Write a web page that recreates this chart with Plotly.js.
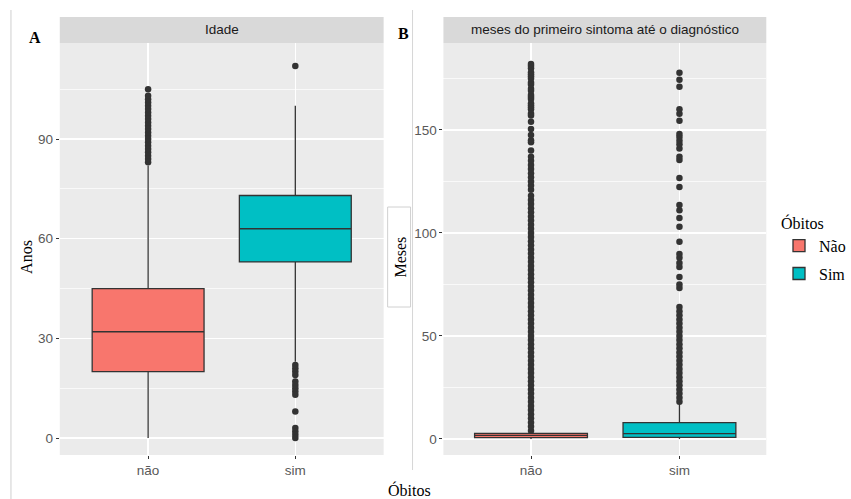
<!DOCTYPE html>
<html>
<head>
<meta charset="utf-8">
<script src="https://cdn.plot.ly/plotly-3.0.1.min.js"></script>
<style>html,body{margin:0;padding:0;background:#fff;}#chart{width:851px;height:499px;}</style>
</head>
<body>
<div id="chart"></div>
<script>
// ---------- DATA ----------
const categories = ['não', 'sim'];
const legendNames = ['Não', 'Sim'];

// Panel A: Idade (anos)
const idadeQ1 = [20, 53];
const idadeMedian = [32, 63];
const idadeQ3 = [45, 73];
const idadeLower = [0, 23];
const idadeUpper = [82, 100];
const idadeOutNao = [83, 84, 85, 86, 87, 88, 89, 90, 91, 92, 93, 94, 95, 96, 97, 98, 99, 100, 101, 102, 103, 105];
const idadeOutSim = [112, 22, 21, 20, 19, 17, 16, 15, 14, 13, 8, 3, 2, 1, 0];

// Panel B: meses do primeiro sintoma até o diagnóstico
const mesesQ1 = [0.6, 0.8];
const mesesMedian = [1.7, 2.6];
const mesesQ3 = [2.7, 7.9];
const mesesLower = [0, 0];
const mesesUpper = [4, 17.5];
const mesesOutNao = [4, 6, 8, 10, 12, 14, 16, 18, 20, 22, 24, 26, 28, 30, 32, 34, 36, 38, 40, 42, 44, 46, 48, 50,
  52, 54, 56, 58, 60, 62, 64, 66, 68, 70, 72, 74, 76, 78, 80, 82, 84, 86, 88, 90, 92, 94, 96, 98, 100,
  102, 104, 106, 108, 110, 112, 114, 116, 118, 121, 123, 125, 127, 129, 131, 133, 135, 137, 140,
  144, 145, 147.5, 150.5, 154, 157, 158, 160, 161, 162, 163, 165, 166, 167, 169, 170, 172, 173, 175,
  176, 177, 178, 180, 181, 182];
const mesesOutSim = [18, 20, 22, 24, 26, 28, 30, 32, 34, 36, 38, 40, 42, 44, 46, 48, 50, 52, 54, 56, 58, 60,
  62, 64, 73.3, 75, 78.6, 83.5, 85.4, 87.9, 89.8, 95.7, 103, 107.3, 111, 113.6, 122.3, 126.7, 135.4, 137,
  141, 143, 144.7, 146.6, 148, 154.4, 157.8, 160, 171, 174.3, 177.8];

// ---------- STYLE ----------
const fills = ['#F8766D', '#00BFC4'];
const W = 851, H = 499;
const px = x => x / W;
const py = y => 1 - y / H;

function boxTrace(i, q1, med, q3, lo, hi, xa, ya, showleg) {
  return {
    type: 'box', name: legendNames[i], legendgroup: legendNames[i], showlegend: showleg,
    x: [categories[i]], q1: [q1[i]], median: [med[i]], q3: [q3[i]],
    lowerfence: [lo[i]], upperfence: [hi[i]],
    boxpoints: false, width: 0.76, whiskerwidth: 0,
    fillcolor: fills[i], line: {color: '#333333', width: 1.3},
    xaxis: xa, yaxis: ya, hoverinfo: 'skip'
  };
}
function outTrace(i, vals, xa, ya) {
  return {
    type: 'scatter', mode: 'markers', showlegend: false, legendgroup: legendNames[i],
    x: vals.map(() => categories[i]), y: vals,
    marker: {color: '#333333', size: 6.5, line: {width: 0}},
    xaxis: xa, yaxis: ya, hoverinfo: 'skip'
  };
}

const data = [
  boxTrace(0, idadeQ1, idadeMedian, idadeQ3, idadeLower, idadeUpper, 'x', 'y', true),
  boxTrace(1, idadeQ1, idadeMedian, idadeQ3, idadeLower, idadeUpper, 'x', 'y', true),
  outTrace(0, idadeOutNao, 'x', 'y'),
  outTrace(1, idadeOutSim, 'x', 'y'),
  boxTrace(0, mesesQ1, mesesMedian, mesesQ3, mesesLower, mesesUpper, 'x2', 'y2', false),
  boxTrace(1, mesesQ1, mesesMedian, mesesQ3, mesesLower, mesesUpper, 'x2', 'y2', false),
  outTrace(0, mesesOutNao, 'x2', 'y2'),
  outTrace(1, mesesOutSim, 'x2', 'y2')
];

const tickFont = {family: 'Liberation Sans, Arial, sans-serif', size: 13.5, color: '#595959'};
function xAxis(dom, anchor, range) {
  return {
    domain: dom, anchor: anchor, type: 'category', range: range,
    showgrid: true, gridcolor: '#FFFFFF', gridwidth: 1.5, zeroline: false, showline: false,
    ticks: 'outside', ticklen: 3, tickcolor: '#333333', tickwidth: 1, tickfont: tickFont, fixedrange: true
  };
}
function yAxis(range, dtick, minorDtick, anchor) {
  return {
    domain: [py(455), py(43)], anchor: anchor, range: range, dtick: dtick, tick0: 0,
    showgrid: true, gridcolor: '#FFFFFF', gridwidth: 1.5, zeroline: false, showline: false,
    minor: {dtick: minorDtick, tick0: 0, showgrid: true, gridcolor: '#FFFFFF', gridwidth: 0.7, ticks: ''},
    ticks: 'outside', ticklen: 3, tickcolor: '#333333', tickwidth: 1, tickfont: tickFont, fixedrange: true
  };
}

const serif = 'Liberation Serif, Times New Roman, serif';
const stripFont = {family: 'Liberation Sans, Arial, sans-serif', size: 13.5, color: '#1A1A1A'};

const layout = {
  width: W, height: H,
  margin: {l: 0, r: 0, t: 0, b: 0},
  paper_bgcolor: '#FFFFFF', plot_bgcolor: '#EBEBEB',
  boxmode: 'overlay',
  xaxis: xAxis([px(60), px(385)], 'y', [-0.6, 1.6]),
  yaxis: yAxis([-5.1, 118.9], 30, 15, 'x'),
  xaxis2: xAxis([px(445), px(769)], 'y2', [-0.59, 1.585]),
  yaxis2: yAxis([-7.8, 192.2], 50, 25, 'x2'),
  showlegend: true,
  legend: {
    x: px(782), y: py(208), xanchor: 'left', yanchor: 'top',
    bgcolor: 'rgba(255,255,255,0)',
    title: {text: 'Óbitos', font: {family: serif, size: 16, color: '#000'}},
    font: {family: serif, size: 16, color: '#000'},
    tracegroupgap: 4
  },
  shapes: [
    {type: 'rect', xref: 'paper', yref: 'paper', x0: px(60), x1: px(385), y0: py(43), y1: py(17), fillcolor: '#D9D9D9', line: {width: 0}, layer: 'below'},
    {type: 'rect', xref: 'paper', yref: 'paper', x0: px(445), x1: px(769), y0: py(43), y1: py(17), fillcolor: '#D9D9D9', line: {width: 0}, layer: 'below'},
    {type: 'line', xref: 'paper', yref: 'paper', x0: px(11), x1: px(11), y0: py(10), y1: py(499), line: {color: '#CFCFCF', width: 1}},
    {type: 'line', xref: 'paper', yref: 'paper', x0: px(414), x1: px(414), y0: py(10), y1: py(470), line: {color: '#D6D6D6', width: 1}},
    {type: 'rect', xref: 'paper', yref: 'paper', x0: px(389), x1: px(412), y0: py(307), y1: py(207), fillcolor: '#FFFFFF', line: {color: '#D0D0D0', width: 1}}
  ],
  annotations: [
    {text: 'Idade', xref: 'paper', yref: 'paper', x: px(222.5), y: py(30), xanchor: 'center', yanchor: 'middle', showarrow: false, font: stripFont},
    {text: 'meses do primeiro sintoma até o diagnóstico', xref: 'paper', yref: 'paper', x: px(607), y: py(30), xanchor: 'center', yanchor: 'middle', showarrow: false, font: stripFont},
    {text: '<b>A</b>', xref: 'paper', yref: 'paper', x: px(35), y: py(38), xanchor: 'center', yanchor: 'middle', showarrow: false, font: {family: serif, size: 16, color: '#000'}},
    {text: '<b>B</b>', xref: 'paper', yref: 'paper', x: px(405), y: py(34), xanchor: 'center', yanchor: 'middle', showarrow: false, font: {family: serif, size: 16, color: '#000'}},
    {text: 'Anos', xref: 'paper', yref: 'paper', x: px(26), y: py(257), xanchor: 'center', yanchor: 'middle', textangle: -90, showarrow: false, font: {family: serif, size: 16, color: '#000'}},
    {text: 'Meses', xref: 'paper', yref: 'paper', x: px(401), y: py(257), xanchor: 'center', yanchor: 'middle', textangle: -90, showarrow: false, font: {family: serif, size: 16, color: '#000'}},
    {text: 'Óbitos', xref: 'paper', yref: 'paper', x: px(411), y: py(490), xanchor: 'center', yanchor: 'middle', showarrow: false, font: {family: serif, size: 16, color: '#000'}}
  ]
};

Plotly.newPlot('chart', data, layout, {displayModeBar: false, staticPlot: true});
</script>
</body>
</html>
